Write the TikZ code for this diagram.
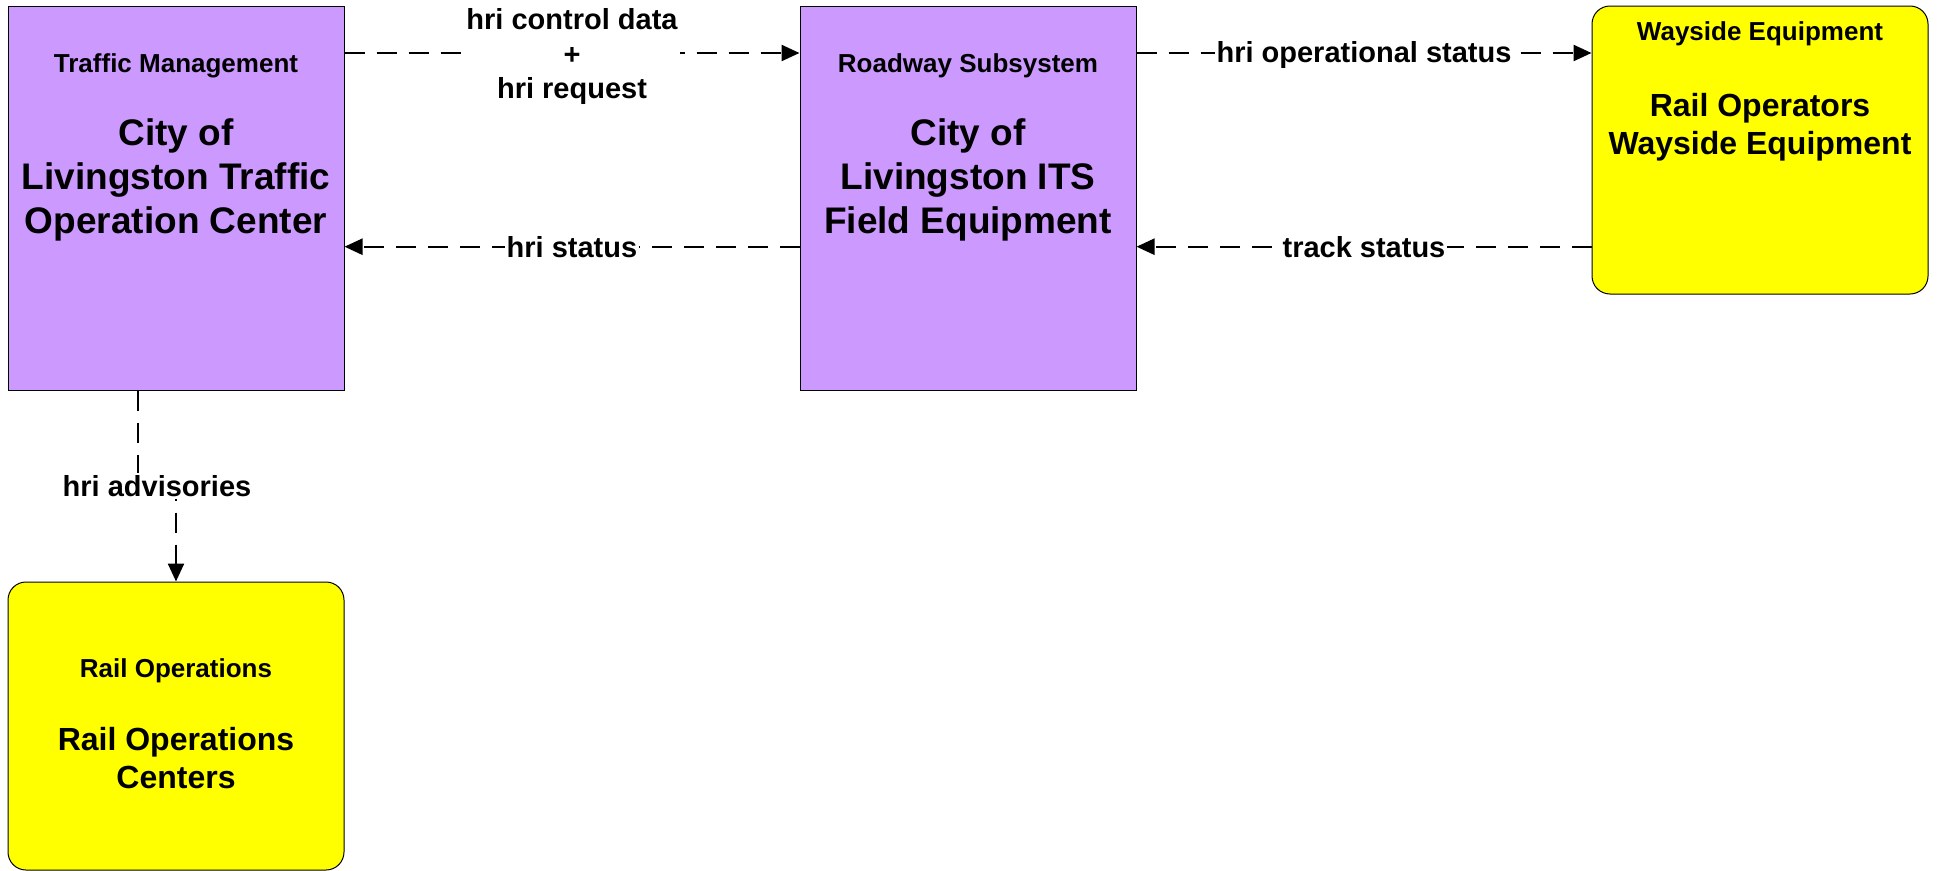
\documentclass[tikz,border=0pt]{standalone}
\usepackage{fontspec}
\setmainfont{Liberation Sans}
\usepackage{tikz}
\usetikzlibrary{arrows.meta, positioning}
\definecolor{lilac}{RGB}{204, 153, 255}
\definecolor{railyellow}{RGB}{255, 255, 0}

\tikzset{
  pbox/.style={draw=black, line width=1pt, fill=lilac, minimum width=336pt, minimum height=384pt, inner sep=0pt},
  ybox/.style={draw=black, line width=1pt, fill=railyellow, rounded corners=18pt, minimum width=336pt, minimum height=288pt, inner sep=0pt},
  sub/.style={font=\fontsize{26}{31}\selectfont\bfseries, anchor=base, inner sep=0pt},
  big/.style={font=\fontsize{37}{44}\selectfont\bfseries, anchor=base, align=center, inner sep=0pt},
  bigy/.style={font=\fontsize{32}{38}\selectfont\bfseries, anchor=base, align=center, inner sep=0pt},
  lbl/.style={font=\fontsize{29}{34.5}\selectfont\bfseries, fill=white, align=center, inner sep=2pt},
  flow/.style={line width=2.4pt, dash pattern=on 20pt off 12pt, -{Triangle[length=18pt, width=16pt]}}
}

\begin{document}
\begin{tikzpicture}[x=1pt, y=-1pt]
  \useasboundingbox (0,0) rectangle (1937,870);

  % Boxes
  \node[pbox] (tm) at (176,198) {};
  \node[pbox] (rw) at (968,198) {};
  \node[ybox] (ws) at (1760,150) {};
  \node[ybox] (rail) at (176,726) {};

  % Box texts (base = last line)
  \node[sub] (tmsub) at (176,72.7) {Traffic Management};
  \node[big] (tmname) at (176,233) {City of\\Livingston Traffic\\Operation Center};
  \node[sub] (rwsub) at (968,72.7) {Roadway Subsystem};
  \node[big] (rwname) at (968,233) {City of\\Livingston ITS\\Field Equipment};
  \node[sub] (wssub) at (1760,40.7) {Wayside Equipment};
  \node[bigy] (wsname) at (1760,154) {Rail Operators\\Wayside Equipment};
  \node[sub] (railsub) at (176,677) {Rail Operations};
  \node[bigy] (railname) at (176,788) {Rail Operations\\Centers};

  % Flows
  \draw[flow] (tm.east |- 0,53) -- node[lbl, yshift=-4pt] {hri control data\\+\\hri request} (rw.west |- 0,53);
  \draw[flow] (rw.west |- 0,246.7) -- node[lbl] {hri status} (tm.east |- 0,246.7);
  \draw[flow] (rw.east |- 0,53) -- node[lbl, yshift=-2.5pt] {hri operational status} (ws.west |- 0,53);
  \draw[flow] (ws.west |- 0,246.7) -- node[lbl] {track status} (rw.east |- 0,246.7);
  \draw[flow] ([xshift=-38pt]tm.south) -- (138,486) -- node[lbl] {hri advisories} (176,486) -- (rail.north);
\end{tikzpicture}
\end{document}
